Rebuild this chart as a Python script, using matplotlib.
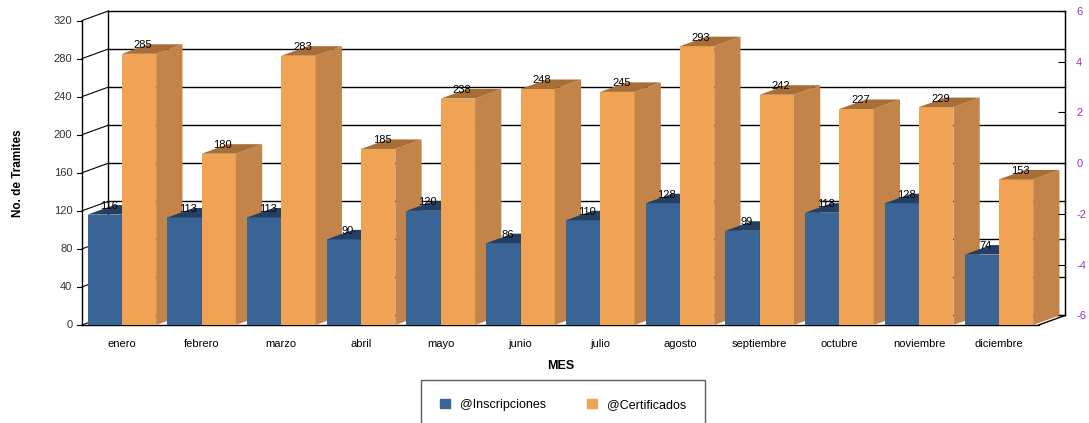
import matplotlib.pyplot as plt
from matplotlib.patches import Patch

plt.rcParams['font.family'] = ['Liberation Sans', 'DejaVu Sans']
plt.rcParams['axes.unicode_minus'] = False

meses = ["enero", "febrero", "marzo", "abril", "mayo", "junio", "julio",
         "agosto", "septiembre", "octubre", "noviembre", "diciembre"]
inscripciones = [116, 113, 113, 90, 120, 86, 110, 128, 99, 118, 128, 74]
certificados = [285, 180, 283, 185, 238, 248, 245, 293, 242, 227, 229, 153]
y_ticks = [0, 40, 80, 120, 160, 200, 240, 280, 320]
y2_ticks = [-6, -4, -2, 0, 2, 4, 6]

# colours: front, side, top
blue = ("#3A6496", "#2D4F7A", "#233F62")
orange = ("#F0A354", "#C3844A", "#A86E38")

ddx = 0.33   # depth offset in x (category units)
ddy = 10     # depth offset in y (data units)
w = 0.43

fig = plt.figure(figsize=(10.89, 4.23), dpi=100)
ax = fig.add_axes([0.0753, 0.2317, 0.978 - 0.0753, 0.974 - 0.2317])
ax.set_xlim(-0.5, 11.5 + ddx)
ax.set_ylim(0, 320 + ddy)
for s in ax.spines.values():
    s.set_visible(False)
ax.set_xticks([])
ax.set_yticks([])

# back wall / grid
x_left = -0.5 + ddx
x_right = 11.5 + ddx
for v in y_ticks:
    ax.plot([x_left, x_right], [v + ddy, v + ddy], color="black", lw=1, zorder=1, clip_on=False)
    ax.plot([-0.5, x_left], [v, v + ddy], color="black", lw=0.8, zorder=1, clip_on=False)
    ax.plot([-0.56, -0.5], [v, v], color="black", lw=0.8, zorder=1, clip_on=False)
    ax.text(-0.62, v, str(v), ha="right", va="center", fontsize=8, color="#333333")
ax.plot([x_left, x_left], [ddy, 320 + ddy], color="black", lw=1, zorder=1, clip_on=False)
ax.plot([-0.5, -0.5], [0, 320], color="black", lw=1, zorder=1, clip_on=False)
ax.plot([x_right, x_right], [ddy, 320 + ddy], color="black", lw=1, zorder=1, clip_on=False)
ax.plot([-0.5, 11.5], [0, 0], color="black", lw=1, zorder=1, clip_on=False)
ax.plot([11.5, x_right], [0, ddy], color="black", lw=1, zorder=1, clip_on=False)


def bar3d(x0, h, cols, z):
    ax.fill([x0, x0 + w, x0 + w, x0], [0, 0, h, h], color=cols[0], zorder=z, lw=0)
    ax.fill([x0 + w, x0 + w + ddx, x0 + w + ddx, x0 + w],
            [0, ddy, h + ddy, h], color=cols[1], zorder=z, lw=0)
    ax.fill([x0, x0 + w, x0 + w + ddx, x0 + ddx],
            [h, h, h + ddy, h + ddy], color=cols[2], zorder=z, lw=0)


z = 2
for i in range(len(meses)):
    bar3d(i - w, inscripciones[i], blue, z)
    z += 1
    bar3d(i, certificados[i], orange, z)
    z += 1

for i in range(len(meses)):
    ax.text(i - w / 2 + 0.05, inscripciones[i] + 9, str(inscripciones[i]), ha="center", va="center",
            fontsize=8, color="black", zorder=100)
    ax.text(i + w / 2 + 0.05, certificados[i] + 9, str(certificados[i]), ha="center", va="center",
            fontsize=8, color="black", zorder=100)
    ax.text(i, -20, meses[i], ha="center", va="center", fontsize=8, color="black")

ax.text(5.5, -43, "MES", ha="center", va="center", fontsize=9, fontweight="bold")
ax.text(-1.3, 160, "No. de Tramites", ha="center", va="center", rotation=90,
        fontsize=8.5, fontweight="bold")

# right axis
ax2 = ax.twinx()
ax2.set_ylim(-6 - ddy * 12 / 320, 6)
ax2.set_yticks(y2_ticks)
ax2.tick_params(axis="y", direction="in", length=5, colors="black", labelcolor="#9933CC",
                labelsize=8, pad=8)
for s in ["left", "top", "bottom"]:
    ax2.spines[s].set_visible(False)
ax2.spines["right"].set_bounds(-6, 6)

fig.legend(handles=[Patch(color=blue[0], label="@Inscripciones"),
                    Patch(color=orange[0], label="@Certificados")],
           loc="upper center", bbox_to_anchor=(0.517, 1 - 380 / 423), ncol=2, fontsize=9,
           frameon=True, fancybox=False, edgecolor="#333333", handlelength=0.8, handleheight=0.8,
           borderpad=1.5, columnspacing=3.3, borderaxespad=0)

fig.savefig("out.png", dpi=100)
